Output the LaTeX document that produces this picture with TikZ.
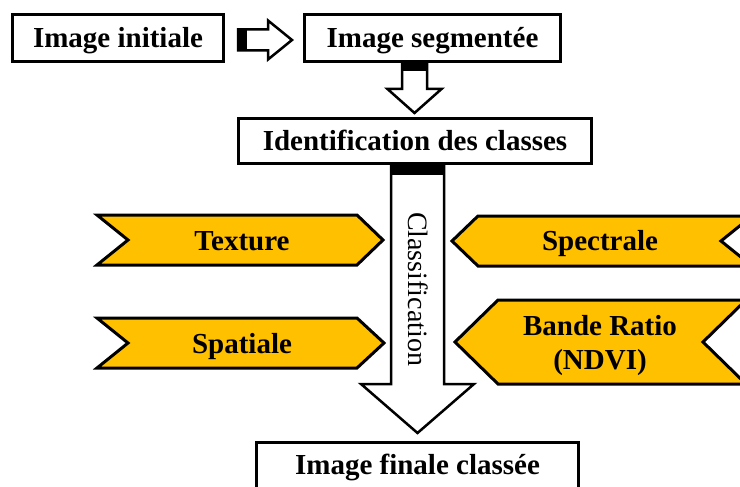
\documentclass[tikz,border=0pt]{standalone}
\usepackage{fontspec}
\setmainfont{Liberation Serif}
\definecolor{gold}{HTML}{FFC000}
\tikzset{
  box/.style={draw, line width=3pt, fill=white, inner sep=0pt,
    font=\fontsize{29}{34}\selectfont\bfseries, text height=19pt, text depth=0pt},
  label29/.style={inner sep=0pt, font=\fontsize{29}{34}\selectfont\bfseries,
    text height=19pt, text depth=0pt},
  twolines/.style={inner sep=0pt, align=center, font=\fontsize{29}{34}\selectfont\bfseries},
  blockarrow/.style={draw, line width=2.5pt, fill=white, line join=miter},
  band/.style={fill=black},
  tag/.style={draw, line width=3pt, fill=gold, line join=miter},
}
\begin{document}
\begin{tikzpicture}[x=1pt, y=-1pt]
\useasboundingbox (0,0) rectangle (740,487);
\begin{scope}
\clip (0,0) rectangle (740,487);

% process boxes
\node[box, minimum width=211pt, minimum height=47pt] (init) at (118,38) {Image initiale};
\node[box, minimum width=256pt, minimum height=47pt] (seg) at (432.5,38) {Image segmentée};
\node[box, minimum width=353pt, minimum height=45pt] (ident) at (415,141) {Identification des classes};
\node[draw, line width=3pt, fill=white, minimum width=322pt, minimum height=80pt, inner sep=0pt] (final) at (417.5,482.5) {};
\node[label29] (finaltext) at (417.5,465) {Image finale classée};

% small arrow: initial -> segmented
\draw[blockarrow] (238,29.5) -- (268,29.5) -- (268,20.5) -- (292,40) -- (268,59.5) -- (268,50.5) -- (238,50.5) -- cycle;
\fill[band] (238,29.5) rectangle (247,50.5);

% down arrow: segmented -> identification
\draw[blockarrow] (402,62.5) -- (402,89) -- (387.5,89) -- (414.5,113) -- (441.5,89) -- (427,89) -- (427,62.5) -- cycle;
\fill[band] (402,62.5) rectangle (427,71.5);

% large arrow: identification -> final (classification)
\draw[blockarrow] (391,165) -- (391,384) -- (361,384) -- (417.5,433) -- (474,384) -- (444,384) -- (444,165) -- cycle;
\fill[band] (391,165) rectangle (444,175);
\node[inner sep=0pt, rotate=-90, font=\fontsize{28}{32}\selectfont, text height=18.5pt, text depth=0pt] (classif) at (417.5,289) {Classification};

% left attributes
\draw[tag] (97,215) -- (357,215) -- (383,240) -- (357,265) -- (97,265) -- (128,240) -- cycle;
\node[label29] (texture) at (242,241) {Texture};
\draw[tag] (97,318) -- (357,318) -- (384,343) -- (357,368) -- (97,368) -- (128,343) -- cycle;
\node[label29] (spatiale) at (242,344) {Spatiale};

% right attributes
\draw[tag] (452,241) -- (478,216) -- (752,216) -- (721,241) -- (752,266) -- (478,266) -- cycle;
\node[label29] (spectrale) at (600,241) {Spectrale};
\draw[tag] (455,342) -- (498,300) -- (746,300) -- (703,342) -- (746,384) -- (498,384) -- cycle;
\node[twolines] (ndvi) at (600,346) {Bande Ratio\\(NDVI)};
\end{scope}
\end{tikzpicture}
\end{document}
